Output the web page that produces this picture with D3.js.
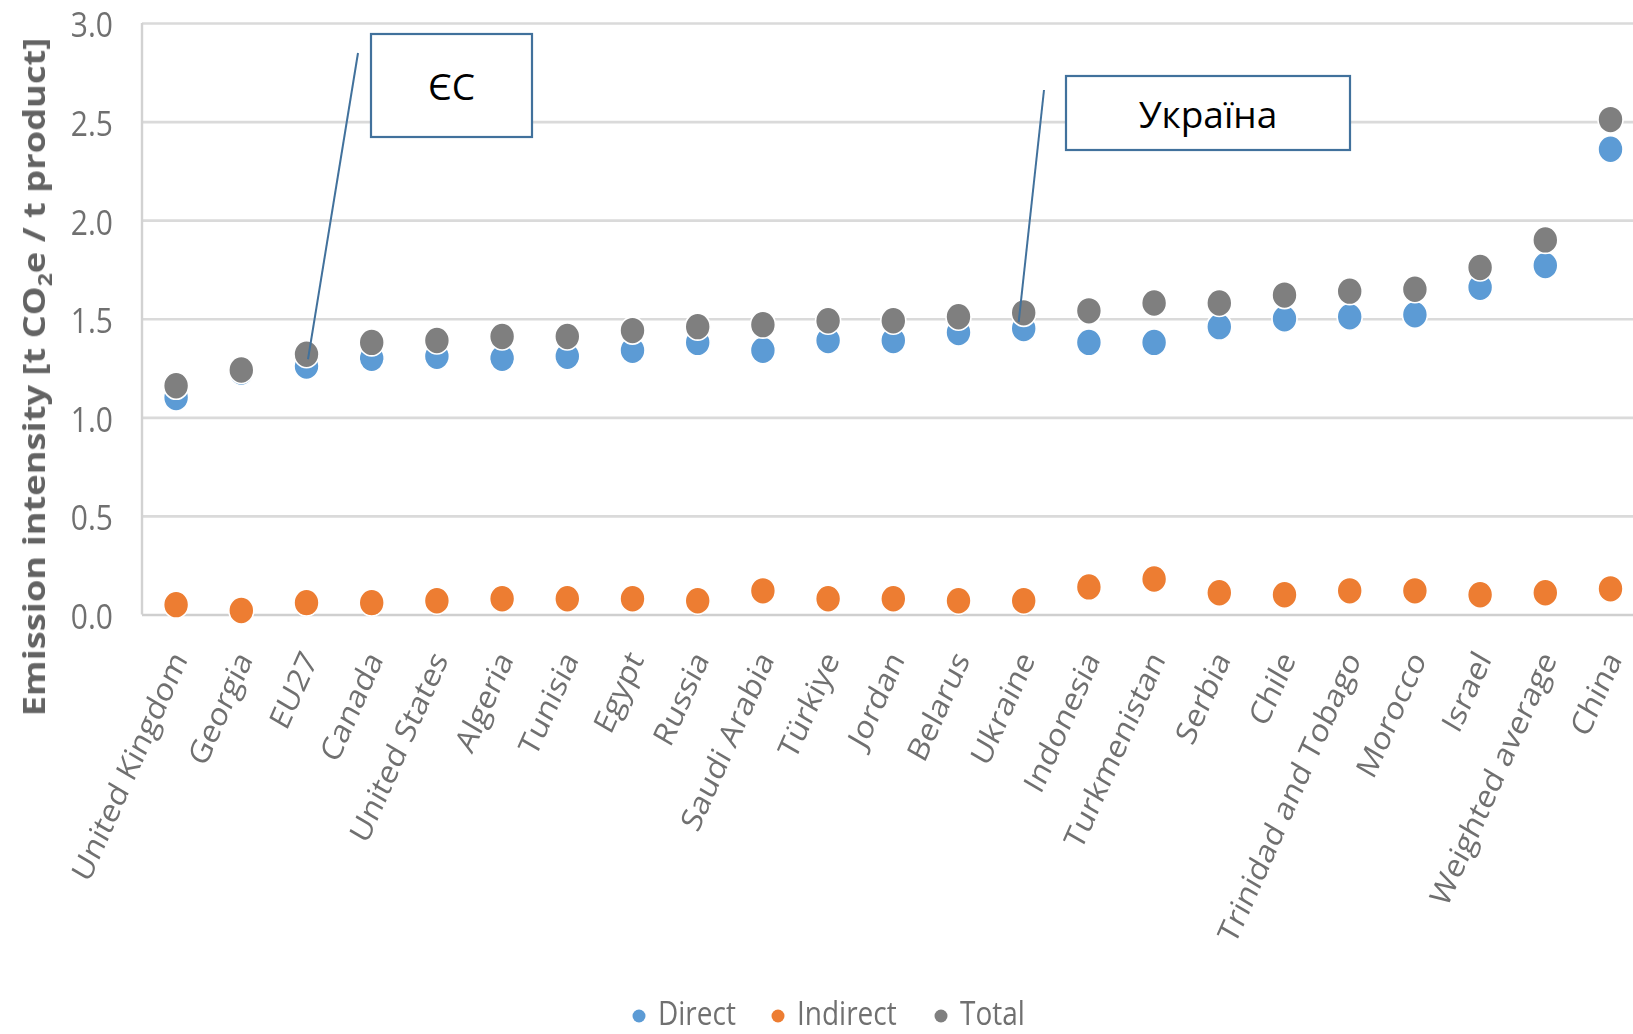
<!DOCTYPE html>
<html>
<head>
<meta charset="utf-8">
<script src="https://cdn.jsdelivr.net/npm/d3@7"></script>
<style>
  html, body { margin: 0; padding: 0; background: #fff; }
  svg { display: block; }
</style>
</head>
<body>
<svg id="chart" width="1633" height="1034"></svg>
<script>
// Emission intensity by producer, t CO2e per t product
const categories = [
  "United Kingdom", "Georgia", "EU27", "Canada", "United States", "Algeria",
  "Tunisia", "Egypt", "Russia", "Saudi Arabia", "Türkiye", "Jordan", "Belarus",
  "Ukraine", "Indonesia", "Turkmenistan", "Serbia", "Chile", "Trinidad and Tobago",
  "Morocco", "Israel", "Weighted average", "China"
];
const directValues = [
  1.10, 1.23, 1.26, 1.30, 1.31, 1.30, 1.31, 1.34, 1.38, 1.34, 1.39, 1.39,
  1.43, 1.45, 1.38, 1.38, 1.46, 1.50, 1.51, 1.52, 1.66, 1.77, 2.36
];
const indirectValues = [
  0.05, 0.02, 0.06, 0.06, 0.07, 0.08, 0.08, 0.08, 0.07, 0.12, 0.08, 0.08,
  0.07, 0.07, 0.14, 0.18, 0.11, 0.10, 0.12, 0.12, 0.10, 0.11, 0.13
];
const totalValues = [
  1.16, 1.24, 1.32, 1.38, 1.39, 1.41, 1.41, 1.44, 1.46, 1.47, 1.49, 1.49,
  1.51, 1.53, 1.54, 1.58, 1.58, 1.62, 1.64, 1.65, 1.76, 1.90, 2.51
];
const yTickValues = [0, 0.5, 1.0, 1.5, 2.0, 2.5, 3.0];
const seriesNames = ["Direct", "Indirect", "Total"];
const seriesColors = ["#5B9BD5", "#ED7D31", "#7F7F7F"];
const calloutLabels = ["ЄС", "Україна"];
const calloutCategories = ["EU27", "Ukraine"];

const seriesValues = [directValues, indirectValues, totalValues];

const svg = d3.select("#chart");
const STRETCH = 1.15;   // chart text is drawn slightly taller than wide
const textColor = "#707070";
const fontFamily = "'Open Sans', 'Noto Sans', sans-serif";

const defs = svg.append("defs");
defs.append("filter").attr("id", "soft")
  .attr("x", "-5%").attr("y", "-5%").attr("width", "110%").attr("height", "110%")
  .append("feGaussianBlur").attr("stdDeviation", 0.75);

const plotLeft = 142, plotTop = 23, plotBottom = 614.5;
const step = 65.2;

const x = d3.scaleBand()
  .domain(categories)
  .range([plotLeft + 1.5, plotLeft + 1.5 + step * categories.length])
  .paddingInner(0).paddingOuter(0);

const y = d3.scaleLinear().domain([0, 3]).range([plotBottom, plotTop]);

const cx = d => x(d) + x.bandwidth() / 2;

const chart = svg.append("g").attr("filter", "url(#soft)");

// horizontal gridlines
const yAxis = d3.axisLeft(y)
  .tickValues(yTickValues)
  .tickSize(-(1633 - plotLeft + 20))
  .tickPadding(30)
  .tickFormat(d3.format(".1f"));

const yG = chart.append("g")
  .attr("transform", `translate(${plotLeft},0)`)
  .call(yAxis);
yG.select(".domain").remove();
yG.selectAll(".tick line")
  .attr("stroke", d => d === 0 ? "#cfcfcf" : "#dadada")
  .attr("stroke-width", 2.6);
yG.selectAll(".tick text")
  .attr("fill", textColor)
  .attr("font-family", fontFamily)
  .attr("font-size", 30)
  .attr("x", null)
  .attr("dy", null)
  .attr("text-anchor", "end")
  .attr("dominant-baseline", "central")
  .attr("transform", `translate(-29,0) scale(1,${STRETCH})`);

// left axis line
chart.append("line")
  .attr("x1", plotLeft).attr("x2", plotLeft)
  .attr("y1", y(3)).attr("y2", y(0))
  .attr("stroke", "#d2d2d2").attr("stroke-width", 2.4);

// category labels
const xAxis = d3.axisBottom(x).tickSize(0).tickPadding(0);
const xG = chart.append("g")
  .attr("transform", `translate(0,${plotBottom})`)
  .call(xAxis);
xG.select(".domain").remove();
xG.selectAll(".tick text")
  .attr("fill", textColor)
  .attr("font-family", fontFamily)
  .attr("font-size", 29)
  .attr("y", null).attr("dy", null)
  .attr("text-anchor", "end")
  .attr("transform", `translate(12,45) scale(1,${STRETCH}) rotate(-63)`);

// y axis title
const title = chart.append("text")
  .attr("transform", `translate(45,377) scale(1,1.21) rotate(-90)`)
  .attr("text-anchor", "middle")
  .attr("font-family", fontFamily)
  .attr("font-weight", 700)
  .attr("font-size", 30)
  .attr("fill", "#636363");
title.append("tspan").text("Emission intensity [t CO");
title.append("tspan").text("2").attr("font-size", 19).attr("dy", 7);
title.append("tspan").text("e / t product]").attr("dy", -7);

// markers: Direct, then Indirect, then Total on top
seriesValues.forEach((vals, si) => {
  chart.append("g")
    .selectAll("ellipse")
    .data(categories.map((c, i) => ({ c, v: vals[i] })))
    .join("ellipse")
    .attr("cx", d => cx(d.c))
    .attr("cy", d => y(d.v))
    .attr("rx", 12.5)
    .attr("ry", 13.5)
    .attr("fill", seriesColors[si])
    .attr("stroke", "#ffffff")
    .attr("stroke-width", 1.6);
});

// legend
const legendX = [639, 778, 941];
const legend = chart.append("g");
seriesNames.forEach((name, i) => {
  legend.append("circle")
    .attr("cx", legendX[i]).attr("cy", 1016).attr("r", 6.5)
    .attr("fill", seriesColors[i]);
  legend.append("text")
    .attr("transform", `translate(${legendX[i] + 19},1025) scale(1,${STRETCH})`)
    .attr("font-family", fontFamily)
    .attr("font-size", 28)
    .attr("fill", textColor)
    .text(name);
});

// callouts pointing at the EU and Ukraine totals
const boxes = [
  { x0: 371, y0: 34, x1: 532, y1: 137, lx: 358, ly: 53, dx: 1.5, dy: 5 },
  { x0: 1066, y0: 76, x1: 1350, y1: 150, lx: 1044, ly: 90, dx: -5, dy: 9 }
];
const notes = svg.append("g");
calloutLabels.forEach((label, i) => {
  const b = boxes[i];
  const idx = categories.indexOf(calloutCategories[i]);
  notes.append("line")
    .attr("x1", b.lx).attr("y1", b.ly)
    .attr("x2", cx(calloutCategories[i]) + b.dx)
    .attr("y2", y(totalValues[idx]) + b.dy)
    .attr("stroke", "#41719C").attr("stroke-width", 2);
  notes.append("rect")
    .attr("x", b.x0).attr("y", b.y0)
    .attr("width", b.x1 - b.x0).attr("height", b.y1 - b.y0)
    .attr("fill", "#ffffff")
    .attr("stroke", "#41719C").attr("stroke-width", 2.2);
  notes.append("text")
    .attr("x", (b.x0 + b.x1) / 2)
    .attr("y", (b.y0 + b.y1) / 2)
    .attr("text-anchor", "middle")
    .attr("dominant-baseline", "central")
    .attr("font-family", fontFamily)
    .attr("font-size", 37)
    .attr("fill", "#000")
    .text(label);
});
</script>
</body>
</html>
